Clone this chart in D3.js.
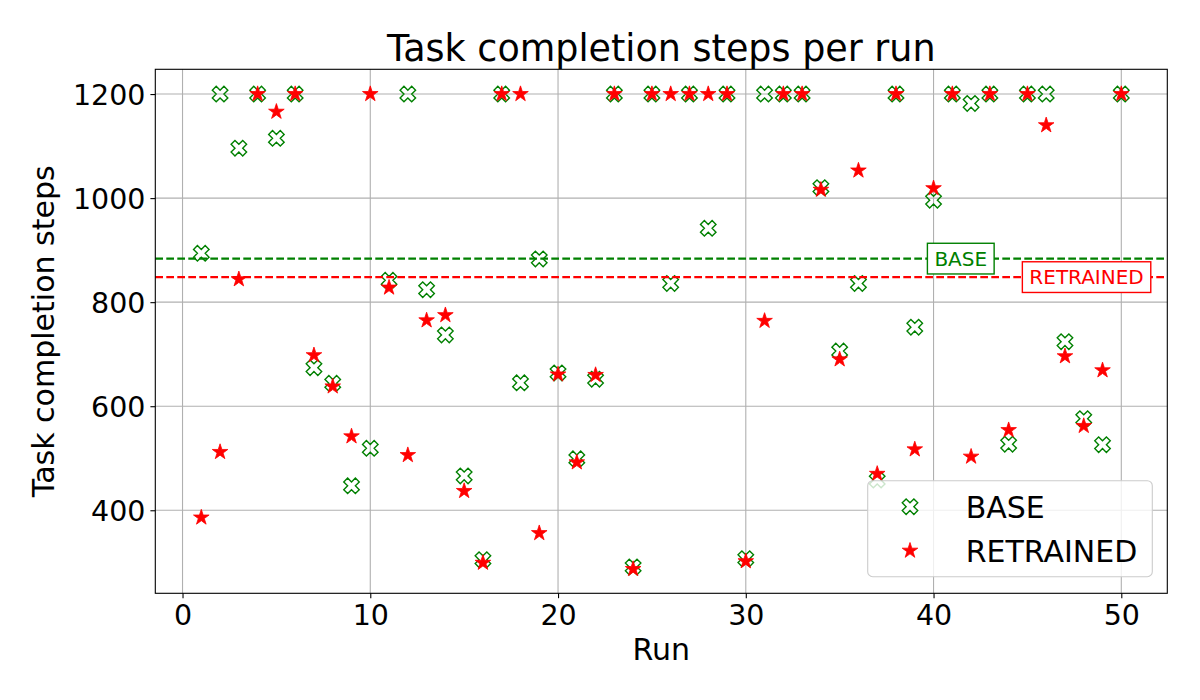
<!DOCTYPE html>
<html>
<head>
<meta charset="utf-8">
<script src="https://cdn.jsdelivr.net/npm/d3@7"></script>
<style>
  html, body { margin: 0; padding: 0; background: #fff; }
  svg { display: block; font-family: "DejaVu Sans", sans-serif; }
</style>
</head>
<body>
<svg id="chart" width="1200" height="700"></svg>
<script>
// ---- data ----
const runs = d3.range(1, 51);
const baseSteps = [
  894, 1200, 1096, 1200, 1115, 1200, 674, 644, 447, 519,
  842, 1200, 824, 737, 466, 305, 1200, 645, 883, 664,
  499, 652, 1200, 291, 1200, 836, 1200, 942, 1200, 307,
  1200, 1200, 1200, 1020, 706, 836, 458, 1200, 752, 996,
  1200, 1182, 1200, 527, 1200, 1200, 724, 576, 526, 1200
];
const retrainedSteps = [
  386, 512, 844, 1200, 1166, 1200, 698, 638, 542, 1200,
  828, 506, 765, 775, 437, 299, 1200, 1200, 356, 661,
  492, 660, 1200, 287, 1200, 1200, 1200, 1200, 1200, 302,
  764, 1200, 1200, 1016, 690, 1053, 470, 1200, 517, 1019,
  1200, 503, 1200, 554, 1200, 1140, 696, 562, 669, 1200
];
const seriesNames = ["BASE", "RETRAINED"];
const seriesColors = ["green", "red"];
const xTicks = [0, 10, 20, 30, 40, 50];
const yTicks = [400, 600, 800, 1000, 1200];
const meanLabelX = [41.45, 48.15];

// ---- layout ----
const svg = d3.select("#chart");
const L = 155.3, R = 1167.3, T = 69.3, B = 593.3;
const x = d3.scaleLinear().domain([-1.45, 52.45]).range([L, R]);
const y = d3.scaleLinear().domain([240.4, 1247.6]).range([B, T]);

// grid
const grid = svg.append("g");
grid.selectAll(".gx").data(xTicks).join("line")
  .attr("x1", d => x(d)).attr("x2", d => x(d)).attr("y1", T).attr("y2", B)
  .attr("stroke", "#b0b0b0").attr("stroke-width", 1.1);
grid.selectAll(".gy").data(yTicks).join("line")
  .attr("y1", d => y(d)).attr("y2", d => y(d)).attr("x1", L).attr("x2", R)
  .attr("stroke", "#b0b0b0").attr("stroke-width", 1.1);

// axes
const xAxis = d3.axisBottom(x).tickValues(xTicks).tickSize(4.9).tickPadding(4).tickFormat(d3.format("d"));
const yAxis = d3.axisLeft(y).tickValues(yTicks).tickSize(4.9).tickPadding(5).tickFormat(d3.format("d"));
const gx = svg.append("g").attr("transform", `translate(0,${B})`).call(xAxis);
const gy = svg.append("g").attr("transform", `translate(${L},0)`).call(yAxis);
[gx, gy].forEach(g => {
  g.select(".domain").remove();
  g.selectAll(".tick line").attr("stroke", "#000").attr("stroke-width", 1.1);
  g.selectAll(".tick text").attr("fill", "#000").attr("font-size", "28.5px")
    .attr("font-family", "DejaVu Sans, sans-serif");
});
gx.selectAll(".tick text").attr("dy", null).attr("y", 32);
gy.selectAll(".tick text").attr("dy", "0.36em");

// marker paths
const xSize = 15.5;
const xVerts = [[-1,-2],[0,-1],[1,-2],[2,-1],[1,0],[2,1],[1,2],[0,1],[-1,2],[-2,1],[-1,0],[-2,-1]];
const xPath = "M" + xVerts.map(v => [v[0]/4*xSize, v[1]/4*xSize].join(",")).join("L") + "Z";
function starPath(r) {
  const ri = r * 0.381966;
  const pts = [];
  for (let i = 0; i < 10; i++) {
    const rad = i % 2 === 0 ? r : ri;
    const a = -Math.PI / 2 + i * Math.PI / 5;
    pts.push([rad * Math.cos(a), rad * Math.sin(a)]);
  }
  return "M" + pts.map(p => p.join(",")).join("L") + "Z";
}
const sPath = starPath(8.2);

// points
const plot = svg.append("g");
plot.selectAll(".base").data(runs).join("path")
  .attr("d", xPath)
  .attr("transform", (d, i) => `translate(${x(d)},${y(baseSteps[i])})`)
  .attr("fill", "none").attr("stroke", seriesColors[0]).attr("stroke-width", 1.4);
plot.selectAll(".ret").data(runs).join("path")
  .attr("d", sPath)
  .attr("transform", (d, i) => `translate(${x(d)},${y(retrainedSteps[i])})`)
  .attr("fill", seriesColors[1]).attr("stroke", seriesColors[1]).attr("stroke-width", 0.8);

// mean lines
const means = [d3.mean(baseSteps), d3.mean(retrainedSteps)];
const ml = svg.append("g");
means.forEach((m, i) => {
  ml.append("line")
    .attr("x1", L).attr("x2", R).attr("y1", y(m)).attr("y2", y(m))
    .attr("stroke", seriesColors[i]).attr("stroke-width", 2.08)
    .attr("stroke-dasharray", "7.7,3.3");
});
means.forEach((m, i) => {
  const g = ml.append("g");
  const cx = x(meanLabelX[i]), cy = y(m);
  const rect = g.append("rect");
  const t = g.append("text")
    .attr("x", cx).attr("y", cy).attr("dy", "0.36em")
    .attr("text-anchor", "middle").attr("font-size", "20px")
    .attr("fill", seriesColors[i]).text(seriesNames[i]);
  const w = t.node().getComputedTextLength() + 14;
  const h = 30.7;
  rect.attr("x", cx - w / 2).attr("y", cy - h / 2).attr("width", w).attr("height", h)
    .attr("fill", "#fff").attr("stroke", seriesColors[i]).attr("stroke-width", 1.4);
});

// spines
svg.append("rect").attr("x", L).attr("y", T).attr("width", R - L).attr("height", B - T)
  .attr("fill", "none").attr("stroke", "#000").attr("stroke-width", 1.1);

// legend
const lg = svg.append("g");
lg.append("rect").attr("x", 867.7).attr("y", 480.7).attr("width", 284.6).attr("height", 96)
  .attr("rx", 5).attr("fill", "#fff").attr("fill-opacity", 0.8)
  .attr("stroke", "#cccccc").attr("stroke-width", 1.1);
const legY = [506.7, 550.7];
seriesNames.forEach((n, i) => {
  lg.append("path").attr("d", i === 0 ? xPath : sPath)
    .attr("transform", `translate(910,${legY[i]})`)
    .attr("fill", i === 0 ? "none" : seriesColors[i])
    .attr("stroke", seriesColors[i]).attr("stroke-width", i === 0 ? 1.4 : 0.8);
  lg.append("text").attr("x", 965.7).attr("y", legY[i]).attr("dy", "0.36em")
    .attr("font-size", "30px").attr("fill", "#000").text(n);
});

// titles
svg.append("text").attr("x", (L + R) / 2).attr("y", 61).attr("text-anchor", "middle")
  .attr("font-size", "36.5px").attr("fill", "#000").text("Task completion steps per run");
svg.append("text").attr("x", (L + R) / 2).attr("y", 660).attr("text-anchor", "middle")
  .attr("font-size", "30px").attr("fill", "#000").text("Run");
svg.append("text").attr("transform", `translate(54,${(T + B) / 2}) rotate(-90)`)
  .attr("text-anchor", "middle").attr("font-size", "30px").attr("fill", "#000")
  .text("Task completion steps");
</script>
</body>
</html>
